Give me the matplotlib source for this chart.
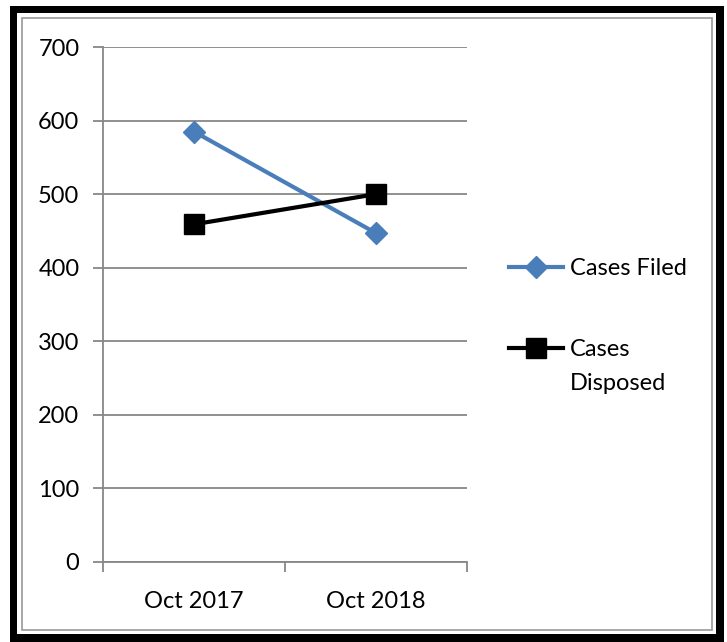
import matplotlib
matplotlib.use("Agg")
import matplotlib.pyplot as plt
from matplotlib.patches import Rectangle

plt.rcParams['font.family'] = ['Lato', 'DejaVu Sans']

periods = ["Oct 2017", "Oct 2018"]
cases_filed = [585, 447]
cases_disposed = [459, 500]
y_ticks = [0, 100, 200, 300, 400, 500, 600, 700]

W, H = 727, 642
fig = plt.figure(figsize=(W / 100, H / 100), dpi=100)


def box(x0, y0, x1, y1, **kw):
    # pixel coords, origin top-left
    r = Rectangle((x0 / W, 1 - y1 / H), (x1 - x0) / W, (y1 - y0) / H,
                  transform=fig.transFigure, zorder=-5, **kw)
    fig.patches.append(r)


# frame: thick black, then white gap, then thin grey line
box(10, 6, 724, 642, facecolor="black", edgecolor="none")
box(17, 13, 716, 634, facecolor="white", edgecolor="none")
box(22, 18, 712, 630, facecolor="none", edgecolor="#a0a0a0", linewidth=1.3)

ax = fig.add_axes([103 / W, 1 - 562 / H, 364 / W, 515 / H])
ax.set_facecolor("none")

x = list(range(len(periods)))
grid_c = "#878787"
ax.plot(x, cases_filed, color="#4a7ebb", linewidth=3, marker="D",
        markersize=11.5, label="Cases Filed", zorder=3)
ax.plot(x, cases_disposed, color="black", linewidth=3, marker="s",
        markersize=15, label="Cases", zorder=3)

ax.set_xlim(-0.5, len(periods) - 0.5)
ax.set_ylim(0, 700)
ax.set_yticks(y_ticks)
ax.yaxis.grid(True, color=grid_c, linewidth=1.3)
ax.set_axisbelow(True)

ax.set_xticks([i - 0.5 for i in range(len(periods) + 1)])
ax.set_xticklabels([])
ax.set_xticks(x, minor=True)
ax.set_xticklabels(periods, minor=True)
ax.tick_params(axis="x", which="major", length=7, width=1.3, color=grid_c, direction="out")
ax.tick_params(axis="x", which="minor", length=0, pad=21, labelsize=17)
ax.tick_params(axis="y", length=7, width=1.3, color=grid_c, labelsize=17, pad=10)

for s in ["top", "right"]:
    ax.spines[s].set_visible(False)
for s in ["left", "bottom"]:
    ax.spines[s].set_color(grid_c)
    ax.spines[s].set_linewidth(1.3)

leg = ax.legend(loc="center left", bbox_to_anchor=(497 / W, 1 - 309 / H),
                bbox_transform=fig.transFigure, frameon=False, fontsize=17,
                handlelength=2.3, handletextpad=0.3, labelspacing=2.55,
                borderpad=0)
# second line of the wrapped legend label
ax.annotate("Disposed", xy=(0, 0), xycoords=leg.get_texts()[1],
            xytext=(0, -13), textcoords="offset pixels",
            va="top", ha="left", fontsize=17, zorder=10)

fig.canvas.draw()
fig.savefig("out.png", dpi=100)
